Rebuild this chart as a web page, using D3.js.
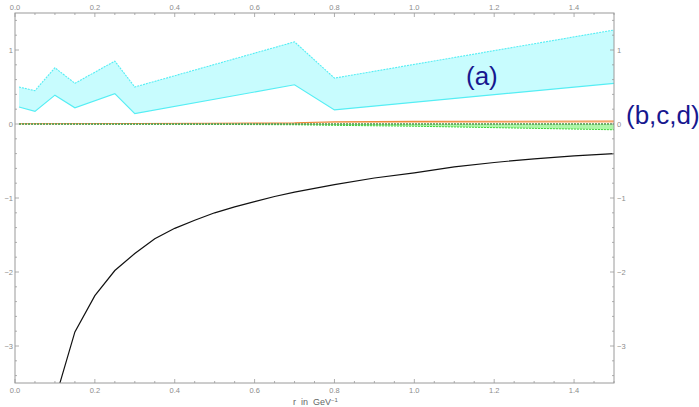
<!DOCTYPE html>
<html>
<head>
<meta charset="utf-8">
<script src="https://cdn.jsdelivr.net/npm/d3@7"></script>
<style>
  html, body { margin: 0; padding: 0; background: #fff; }
  svg { display: block; font-family: "Liberation Sans", Arial, sans-serif; }
</style>
</head>
<body>
<svg id="chart" width="699" height="407"></svg>
<script>
// Band (a): upper / lower bounds of the potential difference
const bandA_r     = [0.01, 0.05, 0.10, 0.15, 0.25, 0.30, 0.70, 0.80, 1.50];
const bandA_upper = [0.50, 0.45, 0.76, 0.55, 0.85, 0.50, 1.11, 0.62, 1.27];
const bandA_lower = [0.23, 0.17, 0.39, 0.22, 0.41, 0.14, 0.53, 0.19, 0.55];

// Bands (b,c,d) close to zero
const bandB_r     = [0.01, 0.30, 0.50, 0.70, 0.80, 1.00, 1.50];
const bandC_upper = [0.003, 0.006, 0.010, 0.015, 0.030, 0.035, 0.040];
const bandC_lower = [0.000, 0.002, 0.004, 0.006, 0.012, 0.014, 0.016];
const bandD_upper = [0.000, 0.000, 0.000, 0.000, 0.000, 0.000, 0.000];
const bandD_lower = [0.000, -0.002, -0.006, -0.010, -0.018, -0.030, -0.078];

// Reference potential (black curve)
const curve_r = [0.10, 0.15, 0.20, 0.25, 0.30, 0.35, 0.40, 0.45, 0.50, 0.55, 0.60,
                 0.65, 0.70, 0.75, 0.80, 0.90, 1.00, 1.10, 1.20, 1.30, 1.40, 1.50];
const curve_v = [-3.73, -2.81, -2.32, -1.98, -1.75, -1.55, -1.41, -1.30, -1.20, -1.12, -1.05,
                 -0.98, -0.92, -0.87, -0.82, -0.73, -0.66, -0.58, -0.52, -0.47, -0.43, -0.40];

// Axis ticks
const xMajor = [0.0, 0.2, 0.4, 0.6, 0.8, 1.0, 1.2, 1.4];
const xMajorLabels = ["0.0", "0.2", "0.4", "0.6", "0.8", "1.0", "1.2", "1.4"];
const yMajor = [1, 0, -1, -2, -3];
const yMajorLabels = ["1", "0", "\u22121", "\u22122", "\u22123"];

const svg = d3.select("#chart");
const pLeft = 15, pRight = 614, pTop = 13, pBottom = 383;

const x = d3.scaleLinear().domain([0, 1.5]).range([pLeft, pRight]);
const y = d3.scaleLinear().domain([-3.5, 1.5]).range([pBottom, pTop]);

svg.append("defs").append("clipPath").attr("id", "clip")
  .append("rect").attr("x", pLeft).attr("y", pTop)
  .attr("width", pRight - pLeft).attr("height", pBottom - pTop);
const plot = svg.append("g").attr("clip-path", "url(#clip)");

function band(rs, lo, hi) {
  return d3.area()
    .x((d, i) => x(rs[i]))
    .y0((d, i) => y(lo[i]))
    .y1((d, i) => y(hi[i]))(rs);
}
function line(rs, vs) {
  return d3.line().x((d, i) => x(rs[i])).y((d, i) => y(vs[i]))(rs);
}

// Band (a)
plot.append("path").attr("d", band(bandA_r, bandA_lower, bandA_upper))
  .attr("fill", "#c8fcfe");
plot.append("path").attr("d", line(bandA_r, bandA_upper))
  .attr("fill", "none").attr("stroke", "#55eef4").attr("stroke-width", 1.1)
  .attr("stroke-dasharray", "2,1");
plot.append("path").attr("d", line(bandA_r, bandA_lower))
  .attr("fill", "none").attr("stroke", "#55eef4").attr("stroke-width", 1.2);

// Bands near zero
plot.append("path").attr("d", band(bandB_r, bandD_lower, bandD_upper))
  .attr("fill", "#aef7a8");
plot.append("path").attr("d", line(bandB_r, bandD_lower))
  .attr("fill", "none").attr("stroke", "#3fd43a").attr("stroke-width", 1)
  .attr("stroke-dasharray", "2,1");
plot.append("path").attr("d", band(bandB_r, bandC_lower, bandC_upper))
  .attr("fill", "#fcc8a4");
plot.append("path").attr("d", line(bandB_r, bandC_upper))
  .attr("fill", "none").attr("stroke", "#f08a3c").attr("stroke-width", 1.1);
plot.append("path").attr("d", line(bandB_r, bandD_upper))
  .attr("fill", "none").attr("stroke", "#3aa83a").attr("stroke-width", 1.4)
  .attr("stroke-dasharray", "2,1");
plot.append("path").attr("d", line(bandB_r, bandD_upper))
  .attr("fill", "none").attr("stroke", "#8a8a8a").attr("stroke-width", 0.8)
  .attr("stroke-dasharray", "1.5,1.5");

// Black curve
plot.append("path").attr("d", line(curve_r, curve_v))
  .attr("fill", "none").attr("stroke", "#111").attr("stroke-width", 1.2);

// Frame
const frameColor = "#9a9a9a";
svg.append("rect").attr("x", pLeft).attr("y", pTop)
  .attr("width", pRight - pLeft).attr("height", pBottom - pTop)
  .attr("fill", "none").attr("stroke", frameColor).attr("stroke-width", 1);

const tickColor = "#9a9a9a";
const labelColor = "#8c8c8c";
const xMinor = d3.range(0, 1.5001, 0.05).filter(v => !xMajor.some(m => Math.abs(m - v) < 1e-6));
const yMinor = d3.range(-3.4, 1.5001, 0.2).filter(v => !yMajor.some(m => Math.abs(m - v) < 1e-6));

const ticks = svg.append("g").attr("stroke", tickColor).attr("stroke-width", 0.8);
xMajor.forEach(v => {
  ticks.append("line").attr("x1", x(v)).attr("x2", x(v)).attr("y1", pBottom).attr("y2", pBottom - 4);
  ticks.append("line").attr("x1", x(v)).attr("x2", x(v)).attr("y1", pTop).attr("y2", pTop + 4);
});
xMinor.forEach(v => {
  ticks.append("line").attr("x1", x(v)).attr("x2", x(v)).attr("y1", pBottom).attr("y2", pBottom - 2);
  ticks.append("line").attr("x1", x(v)).attr("x2", x(v)).attr("y1", pTop).attr("y2", pTop + 2);
});
yMajor.forEach(v => {
  ticks.append("line").attr("y1", y(v)).attr("y2", y(v)).attr("x1", pLeft).attr("x2", pLeft + 4);
  ticks.append("line").attr("y1", y(v)).attr("y2", y(v)).attr("x1", pRight).attr("x2", pRight - 4);
});
yMinor.forEach(v => {
  ticks.append("line").attr("y1", y(v)).attr("y2", y(v)).attr("x1", pLeft).attr("x2", pLeft + 2);
  ticks.append("line").attr("y1", y(v)).attr("y2", y(v)).attr("x1", pRight).attr("x2", pRight - 2);
});

const labels = svg.append("g").attr("fill", labelColor).attr("font-size", 7.5);
xMajor.forEach((v, i) => {
  labels.append("text").attr("x", x(v)).attr("y", 9.5).attr("text-anchor", "middle").text(xMajorLabels[i]);
  labels.append("text").attr("x", x(v)).attr("y", 393).attr("text-anchor", "middle").text(xMajorLabels[i]);
});
yMajor.forEach((v, i) => {
  labels.append("text").attr("x", 13).attr("y", y(v) + 2.5).attr("text-anchor", "end").text(yMajorLabels[i]);
  labels.append("text").attr("x", 617).attr("y", y(v) + 2.5).attr("text-anchor", "start").text(yMajorLabels[i]);
});

// Axis title
const title = svg.append("text").attr("x", 293).attr("y", 405)
  .attr("fill", "#666").attr("font-size", 9).attr("xml:space", "preserve")
  .style("white-space", "pre");
title.append("tspan").text("r  in  GeV");
title.append("tspan").attr("dy", -3.5).attr("font-size", 6).text("\u22121");

// Band labels
svg.append("text").attr("x", 466).attr("y", 85)
  .attr("fill", "#17178f").attr("font-size", 26).text("(a)");
svg.append("text").attr("x", 626).attr("y", 124)
  .attr("fill", "#17178f").attr("font-size", 26).text("(b,c,d)");
</script>
</body>
</html>
